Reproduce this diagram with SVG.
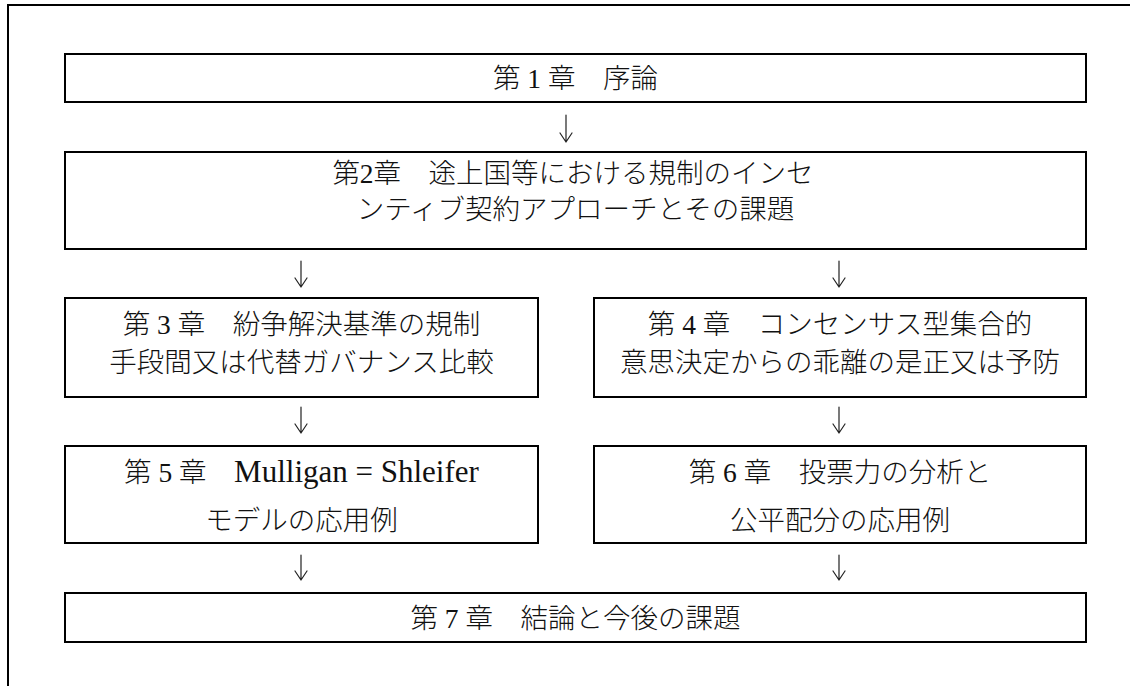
<svg xmlns="http://www.w3.org/2000/svg" width="1134" height="686" viewBox="0 0 1134 686">
<style>
.box{fill:#fff;stroke:#000;stroke-width:2}
.frame{fill:none;stroke:#000;stroke-width:2}
.t{font-family:"Liberation Serif","Noto Sans CJK JP",serif;font-size:27.5px;font-weight:300;fill:#111;text-anchor:middle}
.lat{font-family:"Liberation Serif","Noto Sans CJK JP",serif;font-size:31px;font-weight:400}
.arr{fill:none;stroke:#222;stroke-width:1.2;stroke-linecap:round;stroke-linejoin:round}
</style>
<rect width="1134" height="686" fill="#fff"/>
<path class="frame" d="M8 686 V5 H1130"/>
<g id="ch1">
<rect class="box" x="65" y="54" width="1021" height="48"/>
<text class="t" x="575.5" y="88">第 1 章　序論</text>
</g>
<g id="ch2">
<rect class="box" x="65" y="152" width="1021" height="97"/>
<text class="t" x="573" y="182.5">第2章　途上国等における規制のインセ</text>
<text class="t" x="575.5" y="219">ンティブ契約アプローチとその課題</text>
</g>
<g id="ch3">
<rect class="box" x="65" y="298" width="473" height="99"/>
<text class="t" x="301.5" y="333.5">第 3 章　紛争解決基準の規制</text>
<text class="t" x="301.5" y="371.5">手段間又は代替ガバナンス比較</text>
</g>
<g id="ch4">
<rect class="box" x="594" y="298" width="492" height="99"/>
<text class="t" x="840" y="333.5">第 4 章　コンセンサス型集合的</text>
<text class="t" x="840" y="371.5">意思決定からの乖離の是正又は予防</text>
</g>
<g id="ch5">
<rect class="box" x="65" y="446" width="473" height="97"/>
<text class="t" x="301.5" y="481.5">第 5 章　<tspan class="lat">Mulligan = Shleifer</tspan></text>
<text class="t" x="301.5" y="530">モデルの応用例</text>
</g>
<g id="ch6">
<rect class="box" x="594" y="446" width="492" height="97"/>
<text class="t" x="840" y="481.5">第 6 章　投票力の分析と</text>
<text class="t" x="840" y="530">公平配分の応用例</text>
</g>
<g id="ch7">
<rect class="box" x="65" y="593" width="1021" height="49"/>
<text class="t" x="575.5" y="627.5">第 7 章　結論と今後の課題</text>
</g>
<g id="connectors">
<path class="arr" d="M566 115 V142 M560 133 L566 142 L572 133"/>
<path class="arr" d="M301 261 V287 M295 278 L301 287 L307 278"/>
<path class="arr" d="M839 261 V287 M833 278 L839 287 L845 278"/>
<path class="arr" d="M301 407 V433 M295 424 L301 433 L307 424"/>
<path class="arr" d="M839 407 V433 M833 424 L839 433 L845 424"/>
<path class="arr" d="M301 555 V580 M295 571 L301 580 L307 571"/>
<path class="arr" d="M839 555 V580 M833 571 L839 580 L845 571"/>
</g>
</svg>
